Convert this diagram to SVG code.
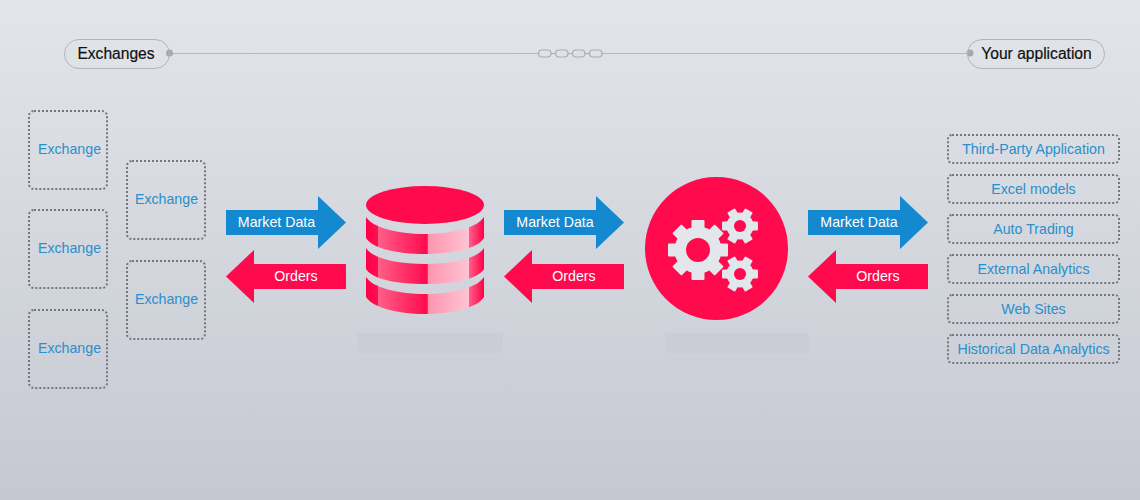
<svg xmlns="http://www.w3.org/2000/svg" width="1140" height="500" viewBox="0 0 1140 500">
<style>
text{font-family:"Liberation Sans",Arial,sans-serif}
.box{fill:none;stroke:#74787e;stroke-width:2;stroke-dasharray:2 2}
.lbl{font-size:14.200px;fill:#2a8fcb;text-anchor:middle}
.pill{fill:none;stroke:#b0b5bb;stroke-width:1}
.head{font-size:15.600px;fill:#111;text-anchor:middle;stroke:#111;stroke-width:.2}
.blue{fill:#1489cf}.red{fill:#ff0a4d}
.al{font-size:14.200px;fill:#fff;text-anchor:middle}
.link{fill:none;stroke:#a9aeb5;stroke-width:1.200}
.gear{fill:#e3e6ea}
.ghost{fill:#cacdd6}
</style>
<defs>
<linearGradient id="bg" x1="0" y1="0" x2="0" y2="1"><stop offset="0" stop-color="#e2e6ea"/><stop offset="1" stop-color="#c5c8d1"/></linearGradient>
<linearGradient id="cyl" gradientUnits="userSpaceOnUse" x1="366" y1="0" x2="484" y2="0">
<stop offset="0" stop-color="#ff0048"/><stop offset=".1" stop-color="#ff0f52"/><stop offset=".102" stop-color="#ff5f88"/><stop offset=".52" stop-color="#ff0a4d"/><stop offset=".525" stop-color="#ff94b0"/><stop offset=".87" stop-color="#ffc4d3"/><stop offset=".875" stop-color="#ff5f88"/><stop offset="1" stop-color="#ff0048"/>
</linearGradient>
<path id="arrowR" d="M0 14H92V0L120 26.500 92 53V39H0Z"/>
<path id="arrowL" d="M120 14H28V0L0 26.500 28 53V39H120Z"/>
<g id="bigGear" class="gear">
<circle r="23.500"/>
<rect x="-6.500" y="-30" width="13" height="60" rx="1"/>
<rect x="-6.500" y="-30" width="13" height="60" rx="1" transform="rotate(45)"/>
<rect x="-6.500" y="-30" width="13" height="60" rx="1" transform="rotate(90)"/>
<rect x="-6.500" y="-30" width="13" height="60" rx="1" transform="rotate(135)"/>
</g>
<g id="smallGear" class="gear">
<circle r="13.500"/>
<rect x="-4.500" y="-18" width="9" height="36" rx="1" transform="rotate(30)"/>
<rect x="-4.500" y="-18" width="9" height="36" rx="1" transform="rotate(90)"/>
<rect x="-4.500" y="-18" width="9" height="36" rx="1" transform="rotate(150)"/>
</g>
</defs>
<rect id="background" width="1140" height="500" fill="url(#bg)"/>

<g id="connectors">
<path d="M170 53.500H538M602 53.500H967" stroke="#b4b9c0" stroke-width="1" fill="none"/>
<circle cx="169.500" cy="53" r="3.500" fill="#a4a9b0"/>
<circle cx="970" cy="53" r="3.500" fill="#a4a9b0"/>
<g class="link">
<rect x="538.500" y="50" width="12.500" height="7" rx="3.500"/>
<rect x="555.500" y="50" width="12.500" height="7" rx="3.500"/>
<rect x="572.500" y="50" width="12.500" height="7" rx="3.500"/>
<rect x="589.500" y="50" width="12.500" height="7" rx="3.500"/>
<path d="M551 53.500H555.500M568 53.500H572.500M585 53.500H589.500"/>
</g>
<g>
<use href="#arrowR" class="blue" x="226" y="196"/><text class="al" x="276.500" y="227">Market Data</text>
<use href="#arrowL" class="red" x="226" y="250"/><text class="al" x="296" y="281">Orders</text>
<use href="#arrowR" class="blue" x="504" y="196"/><text class="al" x="555" y="227">Market Data</text>
<use href="#arrowL" class="red" x="504" y="250"/><text class="al" x="574" y="281">Orders</text>
<use href="#arrowR" class="blue" x="808" y="196"/><text class="al" x="859" y="227">Market Data</text>
<use href="#arrowL" class="red" x="808" y="250"/><text class="al" x="878" y="281">Orders</text>
</g>
</g>

<g id="exchanges-pill"><rect class="pill" x="64.500" y="39.500" width="105" height="29" rx="14.500"/><text class="head" x="116" y="59">Exchanges</text></g>
<g id="application-pill"><rect class="pill" x="967.500" y="39.500" width="137" height="29" rx="14.500"/><text class="head" x="1036.500" y="59">Your application</text></g>

<g id="exchange-1"><rect class="box" x="29" y="111" width="78" height="78" rx="5"/><text class="lbl" x="69.500" y="154">Exchange</text></g>
<g id="exchange-2"><rect class="box" x="29" y="210" width="78" height="78" rx="5"/><text class="lbl" x="69.500" y="253">Exchange</text></g>
<g id="exchange-3"><rect class="box" x="29" y="310" width="78" height="78" rx="5"/><text class="lbl" x="69.500" y="353">Exchange</text></g>
<g id="exchange-4"><rect class="box" x="127" y="161" width="78" height="78" rx="5"/><text class="lbl" x="166.500" y="204">Exchange</text></g>
<g id="exchange-5"><rect class="box" x="127" y="261" width="78" height="78" rx="5"/><text class="lbl" x="166.500" y="304">Exchange</text></g>

<g id="database">
<path fill="url(#cyl)" d="M366 217C372 227 396 234 425 234S478 227 484 217V238C478 248 454 254 425 254S372 248 366 238Z"/>
<path fill="url(#cyl)" d="M366 248C372 258 396 264 425 264S478 258 484 248V269C478 279 454 284 425 284S372 279 366 269Z"/>
<path fill="url(#cyl)" d="M366 277C372 287 396 294 425 294S478 287 484 277V297C478 307 454 314 425 314S372 307 366 297Z"/>
<ellipse cx="425" cy="205" rx="59" ry="19" fill="#ff0a4d"/>
<rect class="ghost" x="358" y="333" width="145" height="20"/>
</g>

<g id="engine">
<circle cx="716.500" cy="248.500" r="71.500" fill="#ff0a4d"/>
<use href="#bigGear" x="698" y="250"/><circle cx="698" cy="250" r="12" fill="#ff0a4d"/>
<use href="#smallGear" x="740" y="226"/><circle cx="740" cy="226" r="6" fill="#ff0a4d"/>
<use href="#smallGear" x="740" y="274"/><circle cx="740" cy="274" r="6" fill="#ff0a4d"/>
<rect class="ghost" x="665" y="333" width="144" height="20"/>
</g>

<g id="app-1"><rect class="box" x="948" y="135" width="171" height="28" rx="4"/><text class="lbl" x="1033.500" y="154">Third-Party Application</text></g>
<g id="app-2"><rect class="box" x="948" y="175" width="171" height="28" rx="4"/><text class="lbl" x="1033.500" y="194">Excel models</text></g>
<g id="app-3"><rect class="box" x="948" y="215" width="171" height="28" rx="4"/><text class="lbl" x="1033.500" y="234">Auto Trading</text></g>
<g id="app-4"><rect class="box" x="948" y="255" width="171" height="28" rx="4"/><text class="lbl" x="1033.500" y="274">External Analytics</text></g>
<g id="app-5"><rect class="box" x="948" y="295" width="171" height="28" rx="4"/><text class="lbl" x="1033.500" y="314">Web Sites</text></g>
<g id="app-6"><rect class="box" x="948" y="335" width="171" height="28" rx="4"/><text class="lbl" x="1033.500" y="354">Historical Data Analytics</text></g>
</svg>
